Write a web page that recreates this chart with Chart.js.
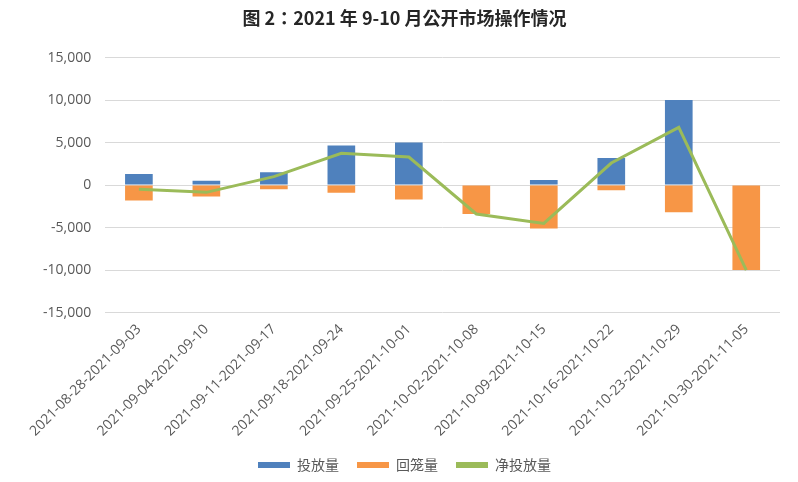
<!DOCTYPE html>
<html>
<head>
<meta charset="utf-8">
<script src="https://cdn.jsdelivr.net/npm/chart.js@4"></script>
<style>
  html, body { margin: 0; padding: 0; background: #fff; }
  #wrap { width: 798px; height: 482px; position: relative; }
</style>
</head>
<body>
<div id="wrap"><canvas id="chart"></canvas></div>
<script>
/* ================== DATA ================== */
const TITLE = "图 2：2021 年 9-10 月公开市场操作情况";
const weeks = [
  "2021-08-28-2021-09-03",
  "2021-09-04-2021-09-10",
  "2021-09-11-2021-09-17",
  "2021-09-18-2021-09-24",
  "2021-09-25-2021-10-01",
  "2021-10-02-2021-10-08",
  "2021-10-09-2021-10-15",
  "2021-10-16-2021-10-22",
  "2021-10-23-2021-10-29",
  "2021-10-30-2021-11-05",
];
// null = no bar that week
const injection = [1300, 500, 1500, 4650, 5000, null, 600, 3200, 10000, null]; // 投放量
const withdrawal = [-1800, -1350, -500, -900, -1700, -3400, -5100, -600, -3200, -10000]; // 回笼量
const netInjection = [-500, -850, 1000, 3750, 3300, -3400, -4500, 2600, 6800, -10000]; // 净投放量
const yTicks = [-15000, -10000, -5000, 0, 5000, 10000, 15000];

/* ================== STYLE ================== */
const BLUE = "#4f81bd";
const ORANGE = "#f79646";
const GREEN = "#9bbb59";
const TEXT = "#595959";
const FONT = "'Open Sans', 'Noto Sans CJK SC', sans-serif";

const ctx = document.getElementById("chart").getContext("2d");
new Chart(ctx, {
  data: {
    labels: weeks,
    datasets: [
      {
        type: "bar",
        label: "投放量",
        data: injection,
        backgroundColor: BLUE,
        grouped: false,
        categoryPercentage: 1,
        barPercentage: 0.41,
        order: 2,
      },
      {
        type: "bar",
        label: "回笼量",
        data: withdrawal,
        backgroundColor: ORANGE,
        grouped: false,
        categoryPercentage: 1,
        barPercentage: 0.41,
        order: 2,
      },
      {
        type: "line",
        label: "净投放量",
        data: netInjection,
        borderColor: GREEN,
        backgroundColor: GREEN,
        borderWidth: 3,
        pointRadius: 0,
        tension: 0,
        order: 1,
      },
    ],
  },
  options: {
    responsive: true,
    maintainAspectRatio: false,
    animation: false,
    layout: { padding: { left: 29, right: 18, top: 0, bottom: 0 } },
    plugins: {
      title: {
        display: true,
        text: TITLE,
        color: "#262626",
        font: { family: "'Noto Sans CJK TC', 'Noto Sans CJK SC', sans-serif", size: 18, weight: "bold" },
        padding: { top: 7, bottom: 29 },
      },
      legend: {
        position: "bottom",
        labels: {
          boxWidth: 32,
          boxHeight: 6,
          color: TEXT,
          padding: 18,
          font: { family: "'Noto Sans CJK SC', serif", size: 14 },
          generateLabels: (chart) =>
            chart.data.datasets.map((ds, i) => ({
              text: ds.label,
              fillStyle: ds.backgroundColor,
              strokeStyle: ds.backgroundColor,
              lineWidth: 0,
              datasetIndex: i,
              fontColor: TEXT,
            })),
        },
      },
      tooltip: { enabled: false },
    },
    scales: {
      x: {
        offset: true,
        grid: { display: false },
        border: { display: false },
        ticks: {
          color: TEXT,
          minRotation: 45,
          maxRotation: 45,
          autoSkip: false,
          padding: 0.5,
          font: { family: FONT, size: 14 },
        },
      },
      y: {
        min: -15000,
        max: 15000,
        afterBuildTicks: (axis) => { axis.ticks = yTicks.map((v) => ({ value: v })); },
        grid: { color: "#d9d9d9", drawTicks: false },
        border: { display: false },
        ticks: {
          color: TEXT,
          padding: 14,
          font: { family: FONT, size: 14 },
          callback: (v) => v.toLocaleString("en-US"),
        },
      },
    },
  },
});
</script>
</body>
</html>
